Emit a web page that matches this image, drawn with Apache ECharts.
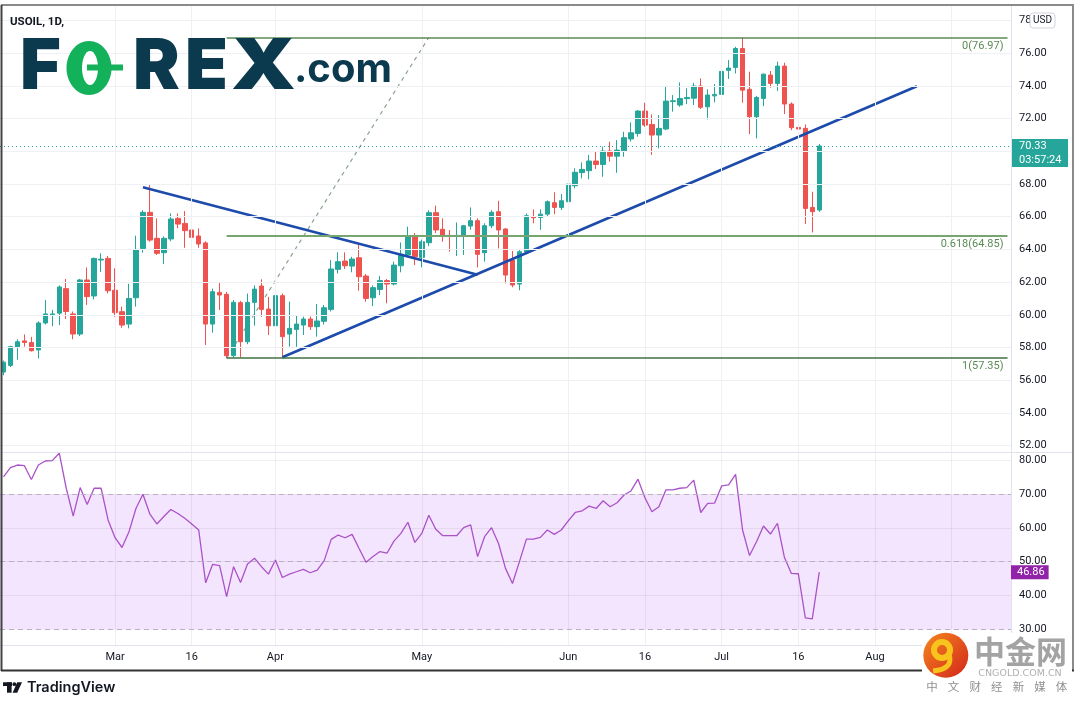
<!DOCTYPE html>
<html><head><meta charset="utf-8">
<script src="https://cdn.jsdelivr.net/npm/echarts@6/dist/echarts.min.js"></script>
<style>html,body{margin:0;padding:0;background:#fff;}#c{width:1080px;height:705px;}</style>
</head><body><div id="c"></div>
<script>
// ---- data ----
const dates = [
'2021-02-05','2021-02-08','2021-02-09','2021-02-10','2021-02-11','2021-02-12','2021-02-15','2021-02-16','2021-02-17','2021-02-18','2021-02-19','2021-02-22','2021-02-23','2021-02-24','2021-02-25','2021-02-26',
'2021-03-01','2021-03-02','2021-03-03','2021-03-04','2021-03-05','2021-03-08','2021-03-09','2021-03-10','2021-03-11','2021-03-12','2021-03-15','2021-03-16','2021-03-17','2021-03-18','2021-03-19','2021-03-22','2021-03-23','2021-03-24','2021-03-25','2021-03-26','2021-03-29','2021-03-30','2021-03-31',
'2021-04-01','2021-04-05','2021-04-06','2021-04-07','2021-04-08','2021-04-09','2021-04-12','2021-04-13','2021-04-14','2021-04-15','2021-04-16','2021-04-19','2021-04-20','2021-04-21','2021-04-22','2021-04-23','2021-04-26','2021-04-27','2021-04-28','2021-04-29','2021-04-30',
'2021-05-03','2021-05-04','2021-05-05','2021-05-06','2021-05-07','2021-05-10','2021-05-11','2021-05-12','2021-05-13','2021-05-14','2021-05-17','2021-05-18','2021-05-19','2021-05-20','2021-05-21','2021-05-24','2021-05-25','2021-05-26','2021-05-27','2021-05-28','2021-05-31',
'2021-06-01','2021-06-02','2021-06-03','2021-06-04','2021-06-07','2021-06-08','2021-06-09','2021-06-10','2021-06-11','2021-06-14','2021-06-15','2021-06-16','2021-06-17','2021-06-18','2021-06-21','2021-06-22','2021-06-23','2021-06-24','2021-06-25','2021-06-28','2021-06-29','2021-06-30',
'2021-07-01','2021-07-02','2021-07-05','2021-07-06','2021-07-07','2021-07-08','2021-07-09','2021-07-12','2021-07-13','2021-07-14','2021-07-15','2021-07-16','2021-07-19','2021-07-20','2021-07-21'];
const futureDates = ['2021-07-22','2021-07-23','2021-07-26','2021-07-27','2021-07-28','2021-07-29','2021-07-30',
'2021-08-02','2021-08-03','2021-08-04','2021-08-05','2021-08-06','2021-08-09','2021-08-10','2021-08-11','2021-08-12','2021-08-13',
'2021-08-16','2021-08-17','2021-08-18','2021-08-19','2021-08-20','2021-08-23','2021-08-24','2021-08-25','2021-08-26','2021-08-27'];

const opens = [56.5,56.9,58.0,58.4,58.3,57.85,59.5,60.0,60.1,61.6,
60.05,58.82,62.13,61.15,63.35,63.45,61.5,60.19,59.43,61.04,
64.06,66.27,64.68,63.8,64.64,65.9,65.59,65.19,64.82,64.4,
59.43,61.37,61.25,57.5,60.74,58.35,60.76,61.76,60.35,59.33,
61.17,58.82,59.1,59.37,59.74,59.27,59.6,60.33,62.78,63.29,
62.98,63.49,62.37,61.04,61.55,62.09,61.88,63.0,63.66,64.84,
63.51,64.41,66.25,65.23,64.86,64.8,64.82,65.43,65.76,63.8,
65.45,66.31,65.25,63.35,61.88,63.86,66.0,65.96,66.16,66.86,
66.57,66.92,67.9,68.7,68.82,69.41,69.2,70.02,69.71,70.04,
70.76,71.1,72.47,71.65,71.0,71.37,73.05,72.84,73.23,73.26,
74.0,72.73,73.4,73.49,74.96,75.14,76.3,73.8,72.12,73.24,
74.67,74.16,75.22,72.9,71.47,71.41,66.57,66.41];
const highs = [57.2,58.1,58.5,58.8,58.65,59.6,60.9,60.3,61.8,62.19,
60.2,62.2,62.9,63.5,63.76,63.6,62.84,60.5,61.9,64.84,
66.4,67.94,65.9,64.8,66.2,66.2,66.35,65.4,65.29,64.5,
61.6,61.98,61.4,60.9,60.85,61.3,61.8,62.17,61.1,61.7,
61.3,60.8,59.98,59.88,59.9,60.66,60.6,63.35,63.82,63.82,
63.55,64.31,62.5,61.8,62.37,62.19,63.25,64.43,65.39,65.0,
64.6,66.4,66.68,65.9,65.19,65.65,65.5,66.57,65.9,65.6,
66.4,66.98,65.3,63.9,63.96,66.2,66.45,66.45,67.0,67.5,
67.39,68.86,68.96,69.33,69.78,69.98,70.29,70.59,70.69,71.2,
71.78,72.53,72.98,72.26,72.22,73.96,73.45,74.22,73.86,74.2,
74.47,73.8,74.12,76.2,75.59,76.4,76.97,74.88,73.4,74.77,
74.92,75.49,75.43,73.0,72.29,71.65,67.53,70.45];
const lows = [56.3,56.8,57.25,58.05,57.75,57.33,59.4,59.3,59.37,59.74,
58.5,58.7,60.6,60.94,62.63,61.3,59.88,59.2,59.17,60.5,
63.8,64.47,63.66,63.1,64.5,65.3,64.1,63.8,64.1,58.15,
58.9,60.29,57.35,57.38,57.4,58.2,59.33,59.88,58.76,59.1,
57.43,58.05,58.04,58.76,59.07,58.66,59.4,60.2,62.53,62.8,
62.6,61.47,60.8,60.53,61.2,60.7,61.8,62.6,63.5,63.04,
62.9,64.2,65.0,64.47,63.86,63.6,63.66,65.2,62.9,63.25,
65.3,64.06,61.92,61.68,61.5,63.7,65.6,65.2,66.0,66.16,
66.41,66.8,67.74,68.35,68.29,68.92,68.45,69.37,68.69,69.67,
70.6,70.9,71.5,69.78,70.18,71.3,72.43,72.73,72.9,72.84,
72.6,71.96,73.0,73.35,74.43,74.77,72.98,71.06,70.8,72.77,
73.9,73.7,72.29,71.3,70.39,65.55,65.04,66.3];
const closes = [57.1,58.05,58.35,58.3,57.8,59.5,60.05,60.05,61.7,60.2,
58.82,62.13,61.11,63.45,63.4,61.47,60.13,59.37,61.0,64.0,
66.27,64.57,63.76,64.68,65.86,65.55,65.15,64.74,64.33,59.43,
61.41,61.21,57.5,60.76,58.35,60.76,61.57,60.33,59.33,61.17,
58.66,59.17,59.43,59.74,59.27,59.62,60.43,62.8,63.25,63.0,
63.41,62.33,61.0,61.66,62.09,61.88,63.04,63.7,64.84,63.55,
64.47,66.25,65.19,64.84,64.8,64.86,65.45,65.76,63.7,65.45,
66.27,65.19,62.43,61.82,63.86,66.06,65.94,66.16,66.92,66.57,
66.98,68.0,68.72,68.9,69.41,69.2,70.02,69.71,70.08,70.84,
71.14,72.47,71.61,71.0,71.41,73.08,73.1,73.24,73.3,74.0,
72.7,73.45,73.49,74.9,75.1,76.3,73.75,72.12,73.3,74.73,
74.16,75.22,72.9,71.45,71.37,66.51,66.31,70.33];
const rsi = [75.2,77.9,78.7,78.5,74.4,78.7,79.9,80.0,82.2,71.8,
63.5,72.0,67.0,71.8,71.8,62.4,57.1,54.2,58.9,65.8,
70.0,64.1,61.2,63.4,65.5,64.3,62.9,61.2,59.4,43.7,
49.2,48.8,39.6,48.5,43.8,49.3,51.0,48.5,46.3,50.5,
45.3,46.3,47.0,47.7,46.7,47.5,50.3,56.6,57.9,57.1,
58.1,53.9,49.8,51.5,53.0,52.5,56.1,58.4,61.7,55.7,
58.4,63.8,59.6,57.7,57.7,57.7,60.1,60.9,51.5,57.4,
60.1,55.4,48.0,43.5,50.0,56.7,56.7,57.2,59.4,58.1,
59.4,62.1,64.6,65.1,66.5,65.8,68.1,66.3,67.5,69.8,
71.0,74.5,69.0,64.8,66.3,71.3,71.3,71.8,72.0,74.2,
64.6,67.3,67.4,72.5,72.8,75.9,59.4,51.8,55.9,60.6,
58.2,61.4,51.3,46.5,46.4,33.3,33.0,46.86];

const priceTicks = [52,54,56,58,60,62,64,66,68,70,72,74,76,78];
const rsiTicks = [30,40,50,60,70,80];
const rsiBandLevels = [30,50,70];
const timeTickDates = ['2021-03-01','2021-03-16','2021-04-01','2021-05-03','2021-06-01','2021-06-16','2021-07-01','2021-07-16','2021-08-02','2021-08-17'];
const timeTickLabels = ['Mar','16','Apr','May','Jun','16','Jul','16','Aug','16'];
const fibRatios = ['0','0.618','1'];
const fibPrices = [76.97, 64.85, 57.35];
const fibStart = '2021-03-23';
const fibConnector = [['2021-03-23', 57.35], ['2021-05-04', 76.97]];
const trendDown = [['2021-03-05', 67.8], ['2021-05-13', 62.45]];
const trendUp = [['2021-04-05', 57.4], ['2021-08-10', 73.99]];
const lastPrice = 70.33, countdown = '03:57:24', lastRsi = 46.86;

// ---- build ----
const cats = dates.concat(futureDates);
const candleData = dates.map((d, i) => [opens[i], closes[i], lows[i], highs[i]]);
const FONT = 'Roboto, "Noto Sans", sans-serif';
const LOGOFONT = 'Inter, Roboto, sans-serif';
const GRIDC = '#eef0f4';
const lastCat = cats[cats.length - 1];

const fibColors = ['#5b8a55', '#76a56f', '#3f7040'];
const fibLineData = fibPrices.map((p, i) => [
  {coord: [fibStart, p], lineStyle: {color: fibColors[i], width: i === 1 ? 2 : 1.5, type: 'solid'},
   label: {formatter: fibRatios[i] + '(' + p.toFixed(2) + ')', color: '#5b8a55'}},
  {coord: [lastCat, p]}
]);

const chart = echarts.init(document.getElementById('c'), null, {renderer: 'canvas', width: 1080, height: 705});

const option = {
  animation: false,
  backgroundColor: '#ffffff',
  grid: [
    {left: 0, width: 1011, top: 6, height: 446},
    {left: 0, width: 1011, top: 453, height: 192}
  ],
  xAxis: [
    {type: 'category', gridIndex: 0, data: cats, boundaryGap: true,
     axisLine: {show: false}, axisTick: {show: false}, axisLabel: {show: false}, splitLine: {show: false}},
    {type: 'category', gridIndex: 1, data: cats, boundaryGap: true,
     axisLine: {show: true, lineStyle: {color: '#e0e3eb'}}, axisTick: {show: false}, splitLine: {show: false},
     axisLabel: {show: true, interval: (i, v) => timeTickDates.indexOf(v) >= 0 && timeTickDates.indexOf(v) < 9,
       formatter: v => { const k = timeTickDates.indexOf(v); return k >= 0 ? timeTickLabels[k] : ''; },
       color: '#131722', fontSize: 11, margin: 7, fontFamily: FONT}}
  ],
  yAxis: [
    {type: 'value', gridIndex: 0, position: 'right', min: 51.6, max: 78.9,
     axisLine: {show: true, lineStyle: {color: '#e0e3eb'}}, axisTick: {show: false}, splitLine: {show: false},
     axisLabel: {customValues: priceTicks, formatter: v => v.toFixed(2), color: '#131722', fontSize: 11, margin: 8, align: 'left', fontFamily: FONT}},
    {type: 'value', gridIndex: 1, position: 'right', min: 25.24, max: 82.27,
     axisLine: {show: true, lineStyle: {color: '#e0e3eb'}}, axisTick: {show: false}, splitLine: {show: false},
     axisLabel: {customValues: rsiTicks, formatter: v => v.toFixed(2), color: '#131722', fontSize: 11, margin: 8, align: 'left', fontFamily: FONT}}
  ],
  series: [
    {name: 'gridPrice', type: 'line', xAxisIndex: 0, yAxisIndex: 0, data: [], silent: true, z: 1,
     markLine: {silent: true, symbol: ['none', 'none'], label: {show: false},
       lineStyle: {color: GRIDC, width: 1, type: 'solid'},
       data: priceTicks.map(v => ({yAxis: v})).concat(timeTickDates.map(d => ({xAxis: d})))}},
    {name: 'gridRsi', type: 'line', xAxisIndex: 1, yAxisIndex: 1, data: [], silent: true, z: 1,
     markArea: {silent: true, itemStyle: {color: 'rgba(140,0,235,0.1)'}, data: [[{yAxis: 30}, {yAxis: 70}]]},
     markLine: {silent: true, symbol: ['none', 'none'], label: {show: false},
       lineStyle: {color: 'rgba(0,0,0,0.06)', width: 1, type: 'solid'},
       data: rsiTicks.map(v => ({yAxis: v})).concat(timeTickDates.map(d => ({xAxis: d})))}},
    {name: 'fib', type: 'line', xAxisIndex: 0, yAxisIndex: 0, data: [], silent: true, z: 2,
     markLine: {silent: true, symbol: ['none', 'none'],
       lineStyle: {type: 'solid'},
       label: {show: true, position: 'insideEndBottom', distance: [4, 3], fontSize: 11, fontFamily: FONT},
       data: fibLineData}},
    {name: 'fibConnector', type: 'line', xAxisIndex: 0, yAxisIndex: 0, data: fibConnector, symbol: 'none', silent: true, z: 2,
     lineStyle: {color: '#8aa38a', width: 1.2, type: [4, 4]}},
    {name: 'USOIL', type: 'candlestick', xAxisIndex: 0, yAxisIndex: 0, data: candleData, barWidth: 5, z: 3,
     itemStyle: {color: '#26a69a', color0: '#ef5350', borderColor: '#26a69a', borderColor0: '#ef5350', borderWidth: 1},
     markLine: {silent: true, symbol: ['none', 'none'],
       lineStyle: {color: '#26a69a', width: 1, type: [1, 3]},
       label: {show: true, position: 'end', distance: 1,
         formatter: '{s| }\n{p|' + lastPrice.toFixed(2) + '}\n{t|' + countdown + '}',
         rich: {
           s: {height: 14, lineHeight: 14, fontSize: 11},
           p: {color: '#fff', backgroundColor: '#26a69a', width: 46, height: 14, lineHeight: 14, padding: [0, 3, 0, 7], fontSize: 11, fontFamily: FONT},
           t: {color: '#fff', backgroundColor: '#26a69a', width: 46, height: 14, lineHeight: 14, padding: [0, 3, 0, 7], fontSize: 11, fontFamily: FONT}
         }},
       data: [{yAxis: lastPrice}]}},
    {name: 'trendDown', type: 'line', xAxisIndex: 0, yAxisIndex: 0, data: trendDown, symbol: 'none', silent: true, z: 4,
     lineStyle: {color: '#1c4bab', width: 2.6}},
    {name: 'trendUp', type: 'line', xAxisIndex: 0, yAxisIndex: 0, data: trendUp, symbol: 'none', silent: true, z: 4,
     lineStyle: {color: '#1c4bab', width: 2.6}},
    {name: 'RSI', type: 'line', xAxisIndex: 1, yAxisIndex: 1, data: rsi, symbol: 'none', silent: true, z: 4,
     lineStyle: {color: '#ab52c8', width: 1.3},
     markLine: {silent: true, symbol: ['none', 'none'], label: {show: false},
       lineStyle: {color: '#bcaec4', width: 1, type: [5, 4]},
       data: rsiBandLevels.map(v => ({yAxis: v})).concat([{yAxis: lastRsi, lineStyle: {color: 'rgba(0,0,0,0)', width: 0.1},
         label: {show: true, position: 'end', distance: 0, formatter: lastRsi.toFixed(2), color: '#fff',
           backgroundColor: '#9123a8', padding: [2, 4, 1, 6], fontSize: 11, fontFamily: FONT}}])}}
  ],
  graphic: {elements: [
    {type: 'line', shape: {x1: 2, y1: 452.5, x2: 1073, y2: 452.5}, style: {stroke: '#e0e3eb', lineWidth: 1}, z: 50, silent: true},
    {type: 'line', shape: {x1: 1, y1: 5, x2: 1074, y2: 5}, style: {stroke: '#8a8a8a', lineWidth: 2}, z: 90, silent: true},
    {type: 'line', shape: {x1: 1073, y1: 5, x2: 1073, y2: 671}, style: {stroke: '#8a8a8a', lineWidth: 2}, z: 90, silent: true},
    {type: 'line', shape: {x1: 1.5, y1: 5, x2: 1.5, y2: 671}, style: {stroke: '#444', lineWidth: 2}, z: 90, silent: true},
    {type: 'line', shape: {x1: 1, y1: 670.5, x2: 1074, y2: 670.5}, style: {stroke: '#333', lineWidth: 2}, z: 90, silent: true},
    {type: 'text', x: 10, y: 22.5, style: {text: 'USOIL, 1D,', fontSize: 11.5, fontWeight: 'bold', fontFamily: FONT, fill: '#131722', verticalAlign: 'middle'}, z: 95},
    // FOREX.com logo
    {type: 'text', x: 20, y: 68, style: {text: 'F', fontSize: 70, fontWeight: 900, fontFamily: LOGOFONT, fill: '#0b3a4f', verticalAlign: 'middle'}, z: 95},
    {type: 'ellipse', shape: {cx: 89, cy: 68, rx: 22.5, ry: 27}, style: {fill: '#13b15a'}, z: 95},
    {type: 'ellipse', shape: {cx: 90, cy: 68, rx: 8, ry: 17}, style: {fill: '#ffffff'}, z: 96},
    {type: 'rect', shape: {x: 87, y: 64.5, width: 36, height: 6}, style: {fill: '#13b15a'}, z: 97},
    {type: 'text', x: 133, y: 68, style: {text: 'R', fontSize: 70, fontWeight: 900, fontFamily: LOGOFONT, fill: '#0b3a4f', verticalAlign: 'middle'}, z: 95},
    {type: 'text', x: 185, y: 68, style: {text: 'E', fontSize: 70, fontWeight: 900, fontFamily: LOGOFONT, fill: '#0b3a4f', verticalAlign: 'middle'}, z: 95},
    {type: 'text', x: 231, y: 68, scaleX: 1.18, style: {text: 'X', fontSize: 70, fontWeight: 900, fontFamily: LOGOFONT, fill: '#0b3a4f', verticalAlign: 'middle'}, z: 95},
    {type: 'text', x: 294, y: 70, style: {text: '.com', fontSize: 40, fontWeight: 'bold', fontFamily: LOGOFONT, fill: '#0b3a4f', verticalAlign: 'middle'}, z: 95},
    // USD box
    {type: 'rect', shape: {x: 1030, y: 13, width: 25, height: 15, r: 3}, style: {fill: '#fff', stroke: '#d1d4dc', lineWidth: 1}, z: 95},
    {type: 'text', x: 1042.5, y: 20.7, style: {text: 'USD', fontSize: 10, fontFamily: FONT, fill: '#131722', align: 'center', verticalAlign: 'middle'}, z: 96},
    // TradingView logo
    {type: 'rect', shape: {x: 3, y: 682.3, width: 9, height: 3.7}, style: {fill: '#131722'}, z: 95},
    {type: 'rect', shape: {x: 7, y: 682.3, width: 4.6, height: 10.4}, style: {fill: '#131722'}, z: 95},
    {type: 'circle', shape: {cx: 14.4, cy: 684.2, r: 1.9}, style: {fill: '#131722'}, z: 95},
    {type: 'polygon', shape: {points: [[17.2, 682.3], [22, 682.3], [17.2, 692.7], [12.6, 692.7]]}, style: {fill: '#131722'}, z: 95},
    {type: 'text', x: 27, y: 688, style: {text: 'TradingView', fontSize: 14.5, fontWeight: 600, fontFamily: LOGOFONT, fill: '#131722', verticalAlign: 'middle'}, z: 95},
    // CNGOLD watermark
    {type: 'rect', shape: {x: 922, y: 633, width: 150, height: 72}, style: {fill: '#ffffff'}, z: 100},
    {type: 'circle', shape: {cx: 945.8, cy: 655.3, r: 22.5},
     style: {fill: new echarts.graphic.LinearGradient(0, 0, 1, 1, [{offset: 0, color: '#f5861f'}, {offset: 1, color: '#d2261b'}])}, z: 101},
    {type: 'arc', shape: {cx: 942, cy: 650, r: 8, startAngle: 0, endAngle: Math.PI * 2}, style: {stroke: '#f9c31d', lineWidth: 6, fill: null}, z: 102},
    {type: 'bezierCurve', shape: {x1: 949, y1: 654, cpx1: 954, cpy1: 669, x2: 933, y2: 671}, style: {stroke: '#f9c31d', lineWidth: 5, fill: null}, z: 102},
    {type: 'text', x: 974, y: 651, style: {text: '中金网', fontSize: 31, fontWeight: 'bold', fontFamily: '"Noto Sans CJK SC", sans-serif', fill: '#a3a3a3', verticalAlign: 'middle'}, z: 101},
    {type: 'text', x: 1020, y: 674, style: {text: 'CNGOLD.COM.CN', fontSize: 9.5, fontFamily: '"DejaVu Sans", sans-serif', fill: '#b0b0b0', align: 'center', verticalAlign: 'middle'}, z: 101}
  ].concat(['中', '文', '财', '经', '新', '媒', '体'].map((ch, i) => ({
    type: 'text', x: 932 + i * 21.6, y: 687, style: {text: ch, fontSize: 11.5, fontFamily: '"Noto Sans CJK SC", sans-serif', fill: '#8f8f8f', align: 'center', verticalAlign: 'middle'}, z: 101
  })))}
};
chart.setOption(option);
</script></body></html>
